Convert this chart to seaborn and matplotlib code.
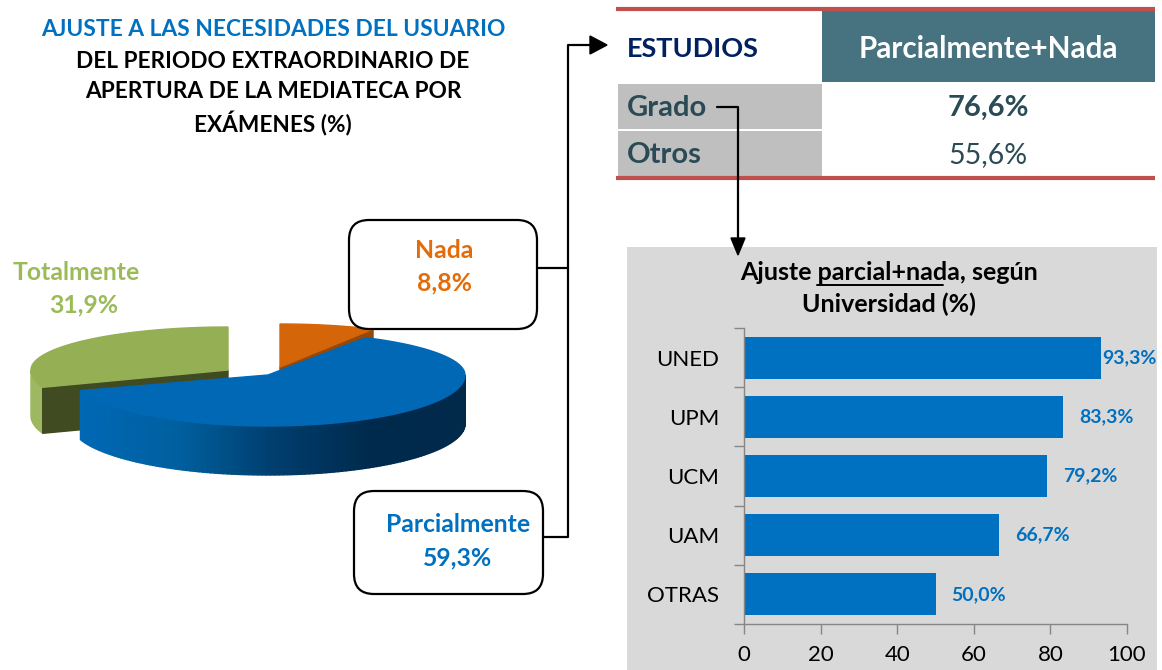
import numpy as np
import pandas as pd
import seaborn as sns
import matplotlib
matplotlib.use('Agg')
import matplotlib.pyplot as plt
from matplotlib.patches import FancyBboxPatch, Rectangle, Polygon

pie_labels = ['Nada', 'Parcialmente', 'Totalmente']
pie_values = [8.8, 59.3, 31.9]

uni_names = ['UNED', 'UPM', 'UCM', 'UAM', 'OTRAS']
uni_values = [93.3, 83.3, 79.2, 66.7, 50.0]

table_rows = ['Grado', 'Otros']
table_values = [76.6, 55.6]

title_lines = ['DEL PERIODO EXTRAORDINARIO DE', 'APERTURA DE LA MEDIATECA POR', 'EXÁMENES (%)']

BLUE = '#0070C0'
GREEN = '#9BBB59'
ORANGE = '#E36C09'
FONT = 'Lato'


def fmt(v):
    return ('%.1f%%' % v).replace('.', ',')


sns.set_theme(style='white')
plt.rcParams['font.family'] = [FONT, 'DejaVu Sans']

fig = plt.figure(figsize=(11.62, 6.70), dpi=100)
ax = fig.add_axes([0, 0, 1, 1])
ax.set_xlim(0, 1162)
ax.set_ylim(670, 0)
ax.axis('off')


# pie is squashed, front half taller than back half
def rim(cx, cy, t):
    t = np.radians(t)
    b = np.where(np.sin(t) > 0, 43, 51)
    return cx + 197 * np.cos(t), cy - b * np.sin(t)


def top_face(cx, cy, t0, t1):
    ts = np.linspace(t0, t1, 80)
    x, y = rim(cx, cy, ts)
    return np.r_[cx, x], np.r_[cy, y]


edges = 90 - np.cumsum([0] + pie_values) * 3.6
# small turns to mimic the perspective of the 3d pie
nada = (edges[0], edges[1] + 3.5)
parc = (edges[1] + 2, edges[2] - 7)
total = (edges[2] - 5, edges[3])

# Totalmente
gx, gy = 228, 370
gd = 46
ts = np.linspace(total[0], -180, 20)
xs, ys = rim(gx, gy, ts)
ax.fill(np.r_[xs, xs[::-1]], np.r_[ys, ys[::-1] + gd], color='#9DB860', zorder=2)
ex, ey = rim(gx, gy, total[0])
ax.fill([gx, ex, ex, gx], [gy, ey, ey + gd, gy + gd], color='#404B22', zorder=3)
x, y = top_face(gx, gy, total[0], total[1])
ax.fill(x, y, color='#95AF55', zorder=4)

# Nada
ox, oy = 280, 367
ex, ey = rim(ox, oy, nada[1])
ax.fill([ox, ex, ex, ox], [oy, ey, ey + 14, oy + 14], color='#974806', zorder=2)
x, y = top_face(ox, oy, nada[0], nada[1])
ax.fill(x, y, color='#D46508', zorder=3)

# Parcialmente, rim first with a left to right shading
bx, by = 268, 375
bd = 49
cmap = matplotlib.colors.LinearSegmentedColormap.from_list('rim', ['#0068B5', '#00609F', '#003E6E', '#002A4D', '#00294A'])
ts = np.linspace(parc[1], 0, 130)
for t0, t1 in zip(ts[:-1], ts[1:]):
    x0, y0 = rim(bx, by, t0)
    x1, y1 = rim(bx, by, t1)
    c = cmap((x0 - 80) / 386.0)
    ax.add_patch(Polygon([(x0, y0), (x1, y1), (x1, y1 + bd), (x0, y0 + bd)], closed=True,
                         facecolor=c, edgecolor=c, lw=1, zorder=6))
x, y = top_face(bx, by, parc[0], parc[1])
ax.fill(x, y, color='#0068B5', zorder=7)

# title
ax.text(273, 29, 'AJUSTE A LAS NECESIDADES DEL USUARIO', color=BLUE, fontsize=16.4, fontweight='bold',
        ha='center', va='center')
for line, yy in zip(title_lines, [61, 92, 124]):
    ax.text(273, yy, line, color='black', fontsize=16.3, fontweight='bold', ha='center', va='center')

# callouts
for x0, y0, w, h in [(349, 220, 188, 109), (354, 491, 189, 103)]:
    ax.add_patch(FancyBboxPatch((x0 + 20, y0 + 20), w - 40, h - 40, boxstyle='round,pad=20,rounding_size=20',
                                facecolor='white', edgecolor='black', lw=1.6, zorder=8))
ax.text(444, 250, pie_labels[0], color=ORANGE, fontsize=17.8, fontweight='bold', ha='center', va='center', zorder=9)
ax.text(444, 283, fmt(pie_values[0]), color=ORANGE, fontsize=17.8, fontweight='bold', ha='center', va='center', zorder=9)
ax.text(458, 524, pie_labels[1], color=BLUE, fontsize=17.8, fontweight='bold', ha='center', va='center', zorder=9)
ax.text(458, 558, fmt(pie_values[1]), color=BLUE, fontsize=17.8, fontweight='bold', ha='center', va='center', zorder=9)
ax.text(76, 272, pie_labels[2], color=GREEN, fontsize=17.8, fontweight='bold', ha='center', va='center')
ax.text(84, 305, fmt(pie_values[2]), color=GREEN, fontsize=17.8, fontweight='bold', ha='center', va='center')

# table
ax.add_patch(Rectangle((822, 11), 333, 71, color='#46737F', lw=0, zorder=1))
ax.add_patch(Rectangle((618, 84), 204, 45, color='#BFBFBF', lw=0, zorder=1))
ax.add_patch(Rectangle((618, 131), 204, 45, color='#BFBFBF', lw=0, zorder=1))
ax.plot([616, 1155], [9, 9], color='#C0504D', lw=3, solid_capstyle='butt', zorder=2)
ax.plot([616, 1155], [177.5, 177.5], color='#C0504D', lw=3, solid_capstyle='butt', zorder=2)
ax.text(627, 49, 'ESTUDIOS', color='#002060', fontsize=19.5, fontweight='bold', va='center')
ax.text(988, 49, 'Parcialmente+Nada', color='white', fontsize=21.3, fontweight='bold', ha='center', va='center')
for i, (row, val) in enumerate(zip(table_rows, table_values)):
    yy = 108 + i * 47
    ax.text(627, yy, row, color='#2A4B55', fontsize=21, fontweight='bold', va='center')
    ax.text(988, yy, fmt(val), color='#2A4B55', fontsize=21 if i == 0 else 20.5, fontweight='bold' if i == 0 else 'normal',
            ha='center', va='center')

# connectors
ax.plot([537, 568], [268, 268], color='black', lw=1.6, zorder=3)
ax.plot([543, 568, 568, 592], [537, 537, 45, 45], color='black', lw=1.6, zorder=3)
ax.add_patch(Polygon([(590, 36), (607, 45), (590, 54)], closed=True, color='black', zorder=3))
ax.plot([717, 738, 738], [107, 107, 240], color='black', lw=1.6, zorder=3)

# bar panel
ax.add_patch(Rectangle((627, 247), 530, 423, color='#D9D9D9', lw=0, zorder=1))
ax.add_patch(Polygon([(731, 238), (745, 238), (738, 255)], closed=True, color='black', zorder=3))
ax.text(889, 272, 'Ajuste parcial+nada, según', color='black', fontsize=18, fontweight='bold',
        ha='center', va='center', zorder=3)
ax.plot([817, 943], [285, 285], color='black', lw=1.4, zorder=3)
ax.text(889, 304, 'Universidad (%)', color='black', fontsize=18, fontweight='bold',
        ha='center', va='center', zorder=3)

df = pd.DataFrame({'uni': uni_names, 'val': uni_values})
bar_ax = fig.add_axes([744 / 1162, 1 - 624 / 670, 383 / 1162, 296 / 670])
bar_ax.patch.set_alpha(0)
sns.barplot(data=df, x='val', y='uni', color=BLUE, saturation=1, width=0.71, linewidth=0, ax=bar_ax)
bar_ax.set_xlim(0, 100)
bar_ax.set_xlabel('')
bar_ax.set_ylabel('')
bar_ax.set_xticks([0, 20, 40, 60, 80, 100])
bar_ax.set_yticks(np.arange(-0.5, 5.5), minor=True)
bar_ax.tick_params(axis='y', which='major', length=0, labelsize=16, pad=25, labelcolor='black')
bar_ax.tick_params(axis='y', which='minor', left=True, length=7, width=1, color='#868686')
bar_ax.tick_params(axis='x', bottom=True, length=7, width=1, color='#868686', labelsize=16, pad=8, labelcolor='black')
bar_ax.tick_params(axis='y', which='major', pad=18)
sns.despine(ax=bar_ax)
for side in ['left', 'bottom']:
    bar_ax.spines[side].set_color('#868686')
    bar_ax.spines[side].set_linewidth(1)

label_gap = [0.2, 4.2, 4.2, 4.2, 4.2]
for i, v in enumerate(uni_values):
    bar_ax.text(v + label_gap[i], i, fmt(v), color=BLUE, fontsize=14, fontweight='bold', va='center', clip_on=False)

fig.savefig('out.png', dpi=100)
